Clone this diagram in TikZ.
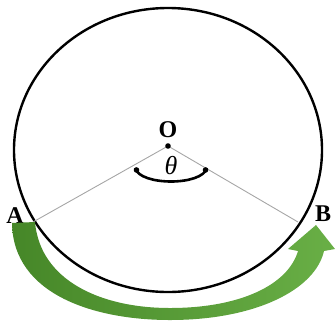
\documentclass[tikz,border=0pt]{standalone}
\usepackage{fontspec}
\setmainfont{Liberation Serif}
\begin{document}
\begin{tikzpicture}[x=1pt,y=-1pt,
  lbl/.style={font=\fontsize{24}{24}\selectfont\bfseries, inner sep=0pt},
  radius line/.style={draw=black!35, line width=0.9pt},
  rim/.style={draw=black, line width=2.4pt},
  anglearc/.style={draw=black, line width=2.6pt}]
\definecolor{gdark}{RGB}{70,135,40}
\definecolor{glight}{RGB}{105,175,70}
\useasboundingbox (0,0) rectangle (336,327);
% circle
\coordinate (C) at (168,150);
\draw[rim] (C) ellipse [x radius=154, y radius=142];
% points
\coordinate (O) at (168,146);
\coordinate (Apt) at (33,222);
\coordinate (Bpt) at (298,222);
\draw[radius line] (O) -- (Apt);
\draw[radius line] (O) -- (Bpt);
\fill (O) circle (2.8);
\node[lbl] (Olbl) at (168,130) {O};
\node[lbl] (Albl) at (15,216) {A};
\node[lbl] (Blbl) at (323,214) {B};
% angle arc
\coordinate (a1) at (135,168);
\coordinate (a2) at (207,168);
\draw[anglearc] (a1) .. controls (140,186) and (202,186) .. (a2);
\fill (136.5,170) circle (2.8);
\fill (205.5,170) circle (2.8);
\node[inner sep=0pt, font=\fontsize{26}{26}\selectfont\itshape] (th) at (171,166) {θ};
% green arrow
\shade[left color=gdark, right color=glight]
  (12,223) .. controls (13,295) and (95,320) .. (170,320)
  .. controls (255,320) and (315,290) .. (324,251)
  -- (335,249) -- (316,225) -- (288,249) -- (298,251)
  .. controls (288,285) and (240,308) .. (170,308)
  .. controls (100,308) and (40,280) .. (35,222) -- cycle;
\end{tikzpicture}
\end{document}
